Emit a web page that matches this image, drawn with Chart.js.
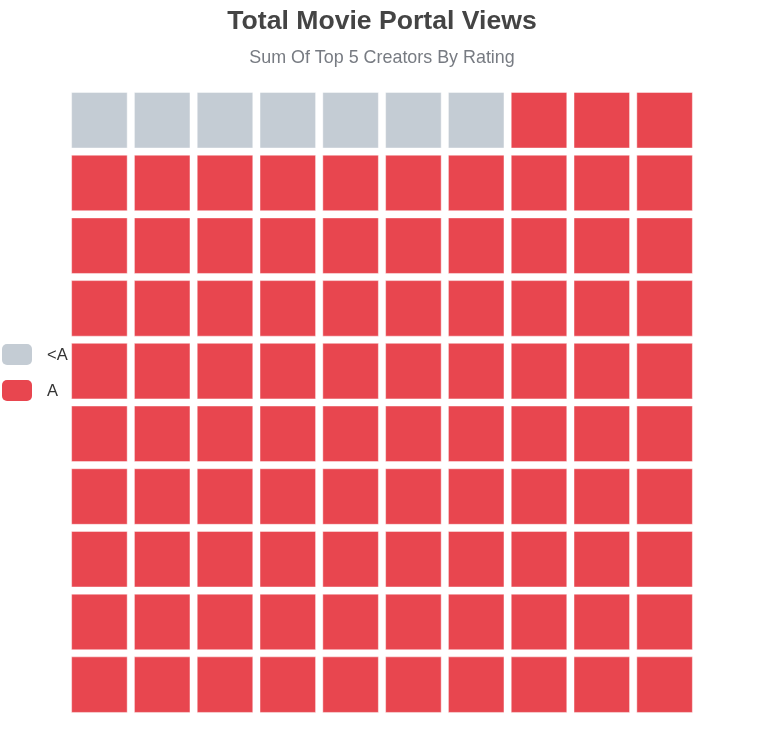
<!DOCTYPE html>
<html>
<head>
<meta charset="utf-8">
<script src="https://cdn.jsdelivr.net/npm/chart.js@4"></script>
<style>
  html, body { margin: 0; padding: 0; background: #ffffff; }
  #wrap { width: 764px; height: 746px; }
</style>
</head>
<body>
<div id="wrap"><canvas id="c" width="764" height="746"></canvas></div>
<script>
// ---- data ----
const categories = ['<A', 'A'];
const values = [7, 93];          // cells out of 100
const colors = ['#c4ccd4', '#e8464f'];
const titleText = 'Total Movie Portal Views';
const subtitleText = 'Sum Of Top 5 Creators By Rating';
const GRID_COLS = 10;
const GRID_ROWS = 10;

// build waffle cells (row-major, from top-left)
let idx = 0;
const datasets = categories.map((cat, ci) => {
  const pts = [];
  for (let k = 0; k < values[ci]; k++, idx++) {
    const col = idx % GRID_COLS;
    const row = Math.floor(idx / GRID_COLS);
    pts.push({ x: col + 0.5, y: row + 0.5 });
  }
  return {
    label: cat,
    data: pts,
    backgroundColor: colors[ci],
    borderColor: 'rgba(255,255,255,0.45)',
    borderWidth: 1,
    pointStyle: 'rect',
    clip: false,
    radius: (ctx) => {
      const xs = ctx.chart.scales.x;
      if (!xs) return 39;
      return (xs.getPixelForValue(0.885) - xs.getPixelForValue(0)) / Math.SQRT2;
    }
  };
});

const sideLegend = {
  id: 'sideLegend',
  afterDraw(chart) {
    const ctx = chart.ctx;
    ctx.save();
    const boxW = 30, boxH = 21, pitch = 36;
    const total = (categories.length - 1) * pitch + boxH;
    const y0 = chart.height / 2 - total / 2 - 0.5;
    categories.forEach((cat, i) => {
      const y = y0 + i * pitch;
      ctx.fillStyle = colors[i];
      ctx.beginPath();
      ctx.roundRect(2, y, boxW, boxH, 5);
      ctx.fill();
      ctx.fillStyle = '#333333';
      ctx.font = '16.5px "Liberation Sans", Arial, sans-serif';
      ctx.textBaseline = 'middle';
      ctx.textAlign = 'left';
      ctx.fillText(cat, 47, y + boxH / 2 + 0.5);
    });
    ctx.restore();
  }
};

new Chart(document.getElementById('c'), {
  type: 'scatter',
  data: { datasets },
  options: {
    responsive: false,
    animation: false,
    events: [],
    layout: { padding: { left: 68, right: 68, top: 0, bottom: 30 } },
    scales: {
      x: { type: 'linear', min: 0, max: GRID_COLS, display: false },
      y: { type: 'linear', min: 0, max: GRID_ROWS, reverse: true, display: false }
    },
    plugins: {
      legend: { display: false },
      tooltip: { enabled: false },
      title: {
        display: true,
        text: titleText,
        color: '#444444',
        font: { family: '"Liberation Sans", Arial, sans-serif', size: 26.6, weight: 'bold' },
        padding: { top: 5.5, bottom: 5 }
      },
      subtitle: {
        display: true,
        text: subtitleText,
        color: '#777b82',
        font: { family: '"Liberation Sans", Arial, sans-serif', size: 17.9, weight: 'normal' },
        padding: { top: 5, bottom: 20 }
      }
    }
  },
  plugins: [sideLegend]
});
</script>
</body>
</html>
